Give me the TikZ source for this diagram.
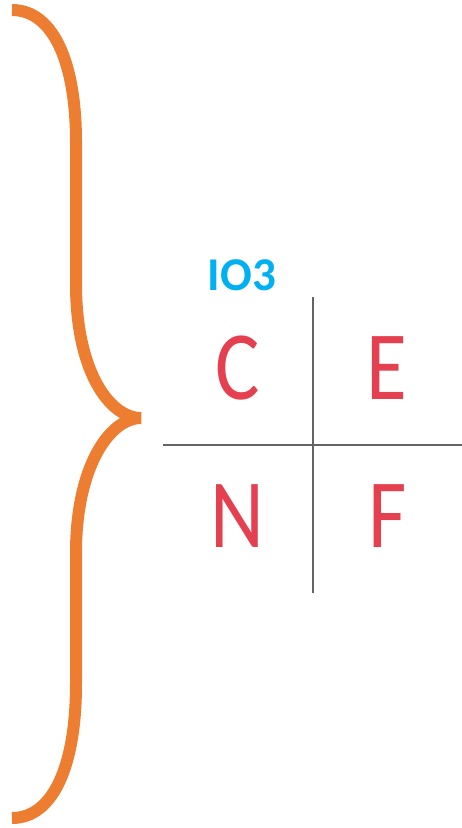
\documentclass[tikz,border=0pt]{standalone}
\usepackage{fontspec}
\usepackage{tikz}
\usepackage{xcolor}
\setmainfont{Carlito}
\definecolor{BraceOrange}{HTML}{ED7D31}
\definecolor{TagCyan}{HTML}{00B0F0}
\definecolor{LetterRed}{HTML}{E4404F}
\definecolor{GridGray}{HTML}{646464}

\begin{document}
\begin{tikzpicture}[x=1pt, y=-1pt,
    letter/.style={LetterRed, inner sep=0pt, font=\fontsize{98}{98}\selectfont, xscale=0.85},
    gridline/.style={GridGray, line width=2.5pt}]
    \useasboundingbox (0,0) rectangle (462,828);

    % Brace
    \draw[BraceOrange, line width=12pt]
        (12,10) .. controls (52,10) and (76,60) .. (76,142) -- (76,284)
        .. controls (76,372) and (110,418) .. (141,418)
        .. controls (110,418) and (76,466) .. (76,553) -- (76,684)
        .. controls (76,768) and (52,818) .. (12,818);

    % Label
    \node[TagCyan, inner sep=0pt, font=\fontsize{47}{47}\bfseries\selectfont] (tag) at (242,275) {IO3};

    % Cross
    \coordinate (vtop) at (313,297); \coordinate (vbot) at (313,593);
    \coordinate (hleft) at (163,445); \coordinate (hright) at (462,445);
    \draw[gridline] (vtop) -- (vbot);
    \draw[gridline] (hleft) -- (hright);

    % Quadrants
    \node[letter] (qc) at (238,368) {C};
    \node[letter] (qe) at (387,368) {E};
    \node[letter] (qn) at (237,516) {N};
    \node[letter] (qf) at (388,516) {F};
\end{tikzpicture}
\end{document}
